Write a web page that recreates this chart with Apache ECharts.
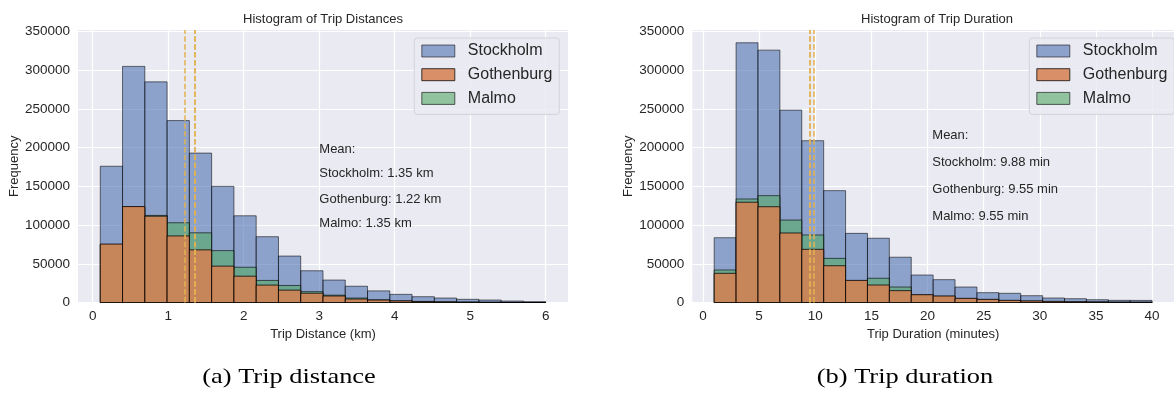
<!DOCTYPE html>
<html>
<head>
<meta charset="utf-8">
<script src="https://cdn.jsdelivr.net/npm/echarts@6/dist/echarts.min.js"></script>
<style>
  html, body { margin: 0; padding: 0; background: #ffffff; }
  #chart { width: 1174px; height: 393px; }
</style>
</head>
<body>
<div id="chart"></div>
<script>
// ---- data -------------------------------------------------------------
const cities = ['Stockholm', 'Gothenburg', 'Malmo'];

// Trip distance histogram (km), 20 bins from 0.1 to 6.0
const distEdges = [0.1, 0.395, 0.69, 0.985, 1.28, 1.575, 1.87, 2.165, 2.46, 2.755,
  3.05, 3.345, 3.64, 3.935, 4.23, 4.525, 4.82, 5.115, 5.41, 5.705, 6.0];
const distStockholm = [176000, 305000, 285000, 235000, 193000, 150000, 112000, 85000, 60000, 41000,
  29000, 21000, 15000, 10500, 7500, 5800, 4100, 3200, 1900, 1000];
const distGothenburg = [75500, 124000, 111500, 86000, 68000, 47000, 34000, 22500, 16000, 12000,
  8400, 4500, 3200, 2000, 1200, 800, 500, 300, 200, 100];
const distMalmo = [75000, 123000, 112500, 103000, 90000, 67000, 45500, 28500, 22000, 14000,
  9500, 5800, 3400, 2200, 1400, 900, 600, 350, 200, 100];
const distMeans = [1.35, 1.22, 1.35];   // Stockholm, Gothenburg, Malmo
const distTicks = [0, 1, 2, 3, 4, 5, 6];

// Trip duration histogram (minutes), 20 bins from 1 to 40
const durEdges = [1, 2.95, 4.9, 6.85, 8.8, 10.75, 12.7, 14.65, 16.6, 18.55, 20.5,
  22.45, 24.4, 26.35, 28.3, 30.25, 32.2, 34.15, 36.1, 38.05, 40];
const durStockholm = [83700, 335500, 326000, 248500, 209000, 144500, 89300, 83000, 58500, 35500,
  29500, 20000, 12700, 11900, 8800, 5800, 4900, 3600, 2800, 2700];
const durGothenburg = [37700, 129500, 123700, 89800, 68700, 47500, 28600, 22600, 15300, 10100,
  8400, 5400, 4100, 2800, 2000, 1500, 1000, 800, 500, 400];
const durMalmo = [42000, 133700, 138000, 106500, 87200, 57000, 28000, 31300, 20000, 9800,
  8000, 5000, 3800, 2600, 1900, 1300, 900, 700, 450, 350];
const durMeans = [9.88, 9.55, 9.55];
const durTicks = [0, 5, 10, 15, 20, 25, 30, 35, 40];

const freqTicks = [0, 50000, 100000, 150000, 200000, 250000, 300000, 350000];

// ---- styling ----------------------------------------------------------
const SANS = '"Liberation Sans", Arial, sans-serif';
const SERIF = '"Liberation Serif", "Times New Roman", serif';
const TEXT = '#262626';
const fills = {
  Stockholm: 'rgba(76,114,176,0.6)',
  Gothenburg: 'rgba(214,128,80,0.85)',
  Malmo: 'rgba(85,168,104,0.6)'
};
const edges = {
  Stockholm: 'rgba(0,0,0,0.55)',
  Gothenburg: 'rgba(0,0,0,0.75)',
  Malmo: 'rgba(0,0,0,0.6)'
};
const MEAN_COLOR = '#E4B352';

// one histogram bar = [binStart, binEnd, count]
function binData(binEdges, counts) {
  return counts.map((c, i) => [binEdges[i], binEdges[i + 1], c]);
}

function histSeries(name, gridIdx, binEdges, counts) {
  return {
    type: 'custom',
    name: name,
    xAxisIndex: gridIdx,
    yAxisIndex: gridIdx,
    encode: { x: [0, 1], y: 2 },
    data: binData(binEdges, counts),
    renderItem: function (params, api) {
      const base = api.coord([api.value(0), 0]);
      const top = api.coord([api.value(1), api.value(2)]);
      return {
        type: 'rect',
        shape: { x: base[0], y: top[1], width: top[0] - base[0], height: base[1] - top[1] },
        style: { fill: fills[name], stroke: edges[name], lineWidth: 1 }
      };
    },
    z: 2
  };
}

function meanSeries(gridIdx, means) {
  return {
    type: 'line',
    name: 'mean',
    xAxisIndex: gridIdx,
    yAxisIndex: gridIdx,
    data: [],
    silent: true,
    markLine: {
      silent: true,
      symbol: ['none', 'none'],
      label: { show: false },
      lineStyle: { color: MEAN_COLOR, type: [5.5, 2.4], width: 1.5 },
      data: means.map(m => ({ xAxis: m }))
    },
    z: 5
  };
}

function xAxis(gridIdx, min, max, ticks, name) {
  return {
    gridIndex: gridIdx,
    type: 'value',
    min: min,
    max: max,
    axisLine: { show: false },
    axisTick: { show: false, customValues: ticks },
    axisLabel: { customValues: ticks, fontSize: 13.5, color: TEXT, fontFamily: SANS, margin: 7 },
    splitLine: { show: true, lineStyle: { color: '#ffffff', width: 1.2 } },
    name: name,
    nameLocation: 'middle',
    nameGap: 22,
    nameTextStyle: { fontSize: 13, color: TEXT, fontFamily: SANS }
  };
}

function yAxis(gridIdx) {
  return {
    gridIndex: gridIdx,
    type: 'value',
    min: 0,
    max: 352000,
    axisLine: { show: false },
    axisTick: { show: false, customValues: freqTicks },
    axisLabel: {
      customValues: freqTicks, fontSize: 13.5, color: TEXT, fontFamily: SANS, margin: 8,
      formatter: v => String(v)
    },
    splitLine: { show: true, lineStyle: { color: '#ffffff', width: 1.2 } },
    name: 'Frequency',
    nameLocation: 'middle',
    nameGap: 49,
    nameTextStyle: { fontSize: 13, color: TEXT, fontFamily: SANS }
  };
}

function legend(left) {
  return {
    orient: 'vertical',
    left: left,
    top: 38,
    selectedMode: false,
    icon: 'rect',
    itemWidth: 33,
    itemHeight: 12,
    itemGap: 7.7,
    padding: [5, 7, 8, 7],
    backgroundColor: 'rgba(234,234,242,0.8)',
    borderColor: '#D2D2D8',
    borderWidth: 1,
    borderRadius: 3,
    textStyle: { fontSize: 16, color: TEXT, fontFamily: SANS, lineHeight: 16, padding: [0, 0, 0, 8] },
    data: cities.map(c => ({
      name: c,
      itemStyle: { color: fills[c], borderColor: edges[c], borderWidth: 1 }
    }))
  };
}

function text(x, y, str, extra) {
  return Object.assign({
    type: 'text',
    x: x,
    y: y,
    z: 100,
    silent: true,
    style: {
      text: str, fill: TEXT, fontSize: 13, fontFamily: SANS,
      align: 'left', textAlign: 'left', verticalAlign: 'middle', textVerticalAlign: 'middle'
    }
  }, extra || {});
}

function meanLines(means, unit) {
  return ['Mean:'].concat(cities.map((c, i) => c + ': ' + means[i].toFixed(2) + ' ' + unit));
}

const graphics = [];
// panel titles
graphics.push(text(323, 19, 'Histogram of Trip Distances'));
graphics.push(text(937, 19, 'Histogram of Trip Duration'));
graphics[0].style.align = graphics[0].style.textAlign = 'center';
graphics[1].style.align = graphics[1].style.textAlign = 'center';
// mean annotations
const distLineY = [149, 173.5, 199, 223.5];
meanLines(distMeans, 'km').forEach((s, i) => graphics.push(text(319.3, distLineY[i], s)));
const durLineY = [135, 162.7, 189.3, 216];
meanLines(durMeans, 'min').forEach((s, i) => graphics.push(text(932.3, durLineY[i], s)));
// sub-figure captions
[['(a) Trip distance', 289], ['(b) Trip duration', 905]].forEach(([s, x]) => {
  const t = text(x, 377, s, { scaleX: 1.2 });
  t.style.fontFamily = SERIF;
  t.style.fontSize = 22;
  t.style.fill = '#000000';
  t.style.align = t.style.textAlign = 'center';
  graphics.push(t);
});

const chart = echarts.init(document.getElementById('chart'), null, { renderer: 'canvas' });
chart.setOption({
  animation: false,
  backgroundColor: '#ffffff',
  textStyle: { fontFamily: SANS },
  grid: [
    { left: 78, top: 30, width: 490, height: 272.5, show: true, backgroundColor: '#EAEAF2', borderWidth: 0 },
    { left: 692.3, top: 30, width: 490, height: 272.5, show: true, backgroundColor: '#EAEAF2', borderWidth: 0 }
  ],
  xAxis: [
    xAxis(0, -0.195, 6.295, distTicks, 'Trip Distance (km)'),
    xAxis(1, -0.95, 41.95, durTicks, 'Trip Duration (minutes)')
  ],
  yAxis: [yAxis(0), yAxis(1)],
  legend: [legend(414.3), legend(1029.3)],
  series: [
    histSeries('Stockholm', 0, distEdges, distStockholm),
    histSeries('Malmo', 0, distEdges, distMalmo),
    histSeries('Gothenburg', 0, distEdges, distGothenburg),
    meanSeries(0, distMeans),
    histSeries('Stockholm', 1, durEdges, durStockholm),
    histSeries('Malmo', 1, durEdges, durMalmo),
    histSeries('Gothenburg', 1, durEdges, durGothenburg),
    meanSeries(1, durMeans)
  ],
  graphic: { elements: graphics }
});
</script>
</body>
</html>
